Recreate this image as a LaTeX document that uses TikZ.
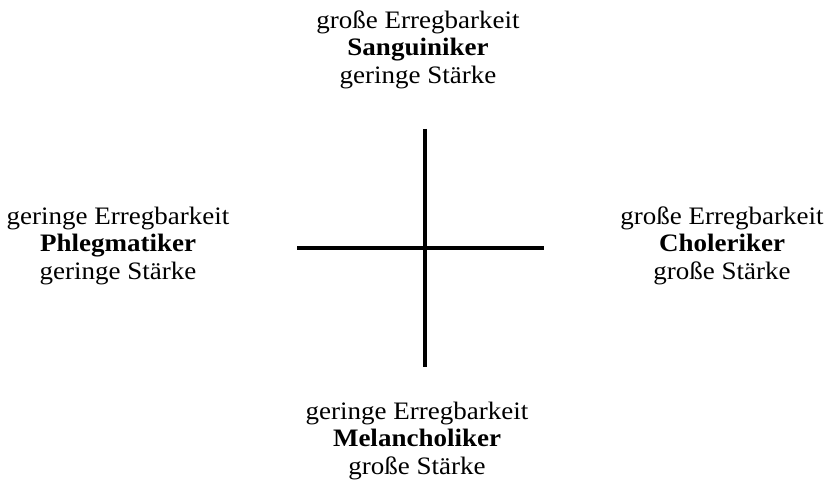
\documentclass[tikz,border=0pt]{standalone}
\usepackage{fontspec}
\setmainfont{Liberation Serif}
% three-line block: condition, type (bold), strength; set slightly squeezed in height
\newcommand{\typeblock}[3]{%
  \scalebox{1}[0.93]{\fontsize{27}{29.5}\selectfont
    \begin{tabular}{@{}c@{}}#1\\\textbf{#2}\\#3\end{tabular}}}
\begin{document}
\begin{tikzpicture}[x=1pt,y=-1pt,
  label/.style={inner sep=0pt},
  axis/.style={line width=4.7pt}]
\useasboundingbox (0,0) rectangle (827,486);
\node[label] (top) at (418,50.5) {\typeblock{große Erregbarkeit}{Sanguiniker}{geringe Stärke}};
\node[label] (left) at (118,246.5) {\typeblock{geringe Erregbarkeit}{Phlegmatiker}{geringe Stärke}};
\node[label] (right) at (722,246.5) {\typeblock{große Erregbarkeit}{Choleriker}{große Stärke}};
\node[label] (bottom) at (417,441.5) {\typeblock{geringe Erregbarkeit}{Melancholiker}{große Stärke}};
\coordinate (n) at (425,129);
\coordinate (s) at (425,367);
\coordinate (w) at (297,248);
\coordinate (e) at (544,248);
\draw[axis] (n) -- (s);
\draw[axis] (w) -- (e);
\end{tikzpicture}
\end{document}
